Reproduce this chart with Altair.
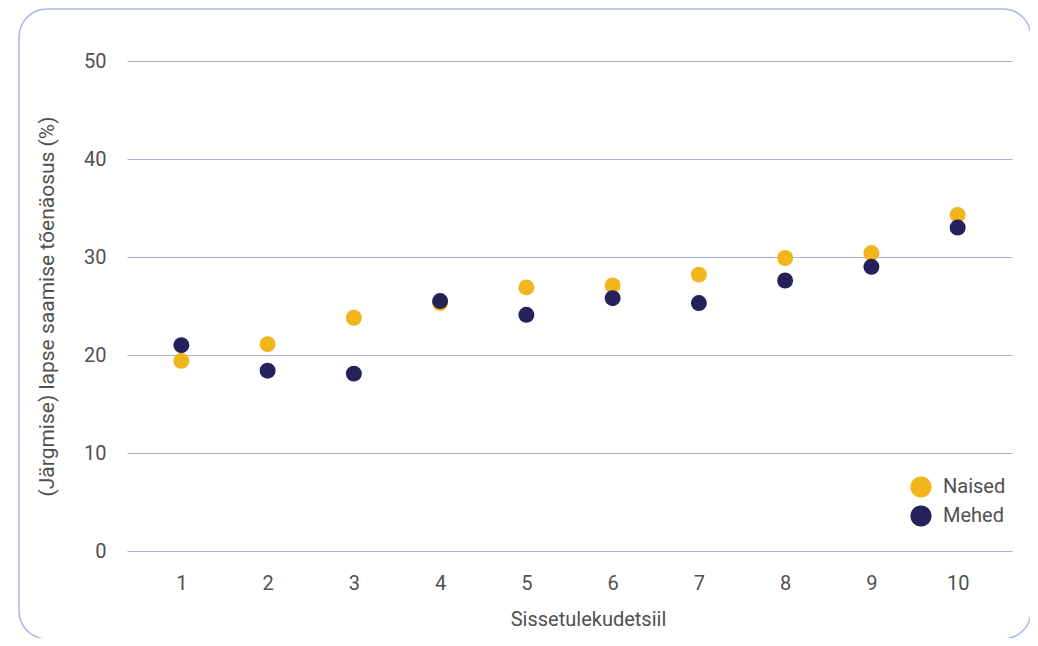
import altair as alt
import pandas as pd

deciles = [1, 2, 3, 4, 5, 6, 7, 8, 9, 10]
naised = [19.4, 21.1, 23.8, 25.3, 26.9, 27.1, 28.2, 29.9, 30.4, 34.3]
mehed = [21.0, 18.4, 18.1, 25.5, 24.1, 25.8, 25.3, 27.6, 29.0, 33.0]
series = ["Naised", "Mehed"]
colors = ["#F2B51B", "#25215B"]

rows = []
for name, vals in zip(series, [naised, mehed]):
    for d, v in zip(deciles, vals):
        rows.append({"decile": str(d), "value": v, "group": name})
df = pd.DataFrame(rows)

FONT = "Roboto"
TXT = "#505050"
GRID = "#a4afe6"

frame = alt.Chart(alt.Data(values=[{"a": 1}])).mark_rect(
    fill="white", fillOpacity=0, stroke="#aab3e8", strokeWidth=1.5, cornerRadius=28
).encode(
    x=alt.value(-108), x2=alt.value(904),
    y=alt.value(-52), y2=alt.value(578)
)

points = alt.Chart(df).mark_circle(size=255, opacity=1).encode(
    x=alt.X("decile:O", sort=[str(d) for d in deciles],
            scale=alt.Scale(type="point", padding=0.63),
            axis=alt.Axis(title="Sissetulekudetsiil", labelAngle=0, ticks=False, tickSize=0,
                          domain=False, grid=False, labelPadding=22,
                          titleX=461, titleY=58, titleAnchor="middle")),
    y=alt.Y("value:Q", scale=alt.Scale(domain=[0, 50], nice=False),
            axis=alt.Axis(title="(Järgmise) lapse saamise tõenäosus (%)", values=[0, 10, 20, 30, 40, 50],
                          ticks=False, tickSize=0, domain=False, grid=True, labelPadding=21,
                          gridColor=GRID, gridWidth=1, gridOpacity=1,
                          titleX=-80, titleBaseline="middle", titleFontSize=21)),
    color=alt.Color("group:N", scale=alt.Scale(domain=series, range=colors),
                    legend=alt.Legend(title=None, orient="none", legendX=783, legendY=415,
                                      symbolSize=450, symbolType="circle", rowPadding=7,
                                      labelFontSize=20, labelFont=FONT, labelColor=TXT,
                                      labelOffset=11, symbolStrokeWidth=0)),
    order=alt.Order("order:Q")
).transform_calculate(order="datum.group === 'Naised' ? 0 : 1")

chart = alt.layer(frame, points).properties(
    width=885, height=490,
    autosize=alt.AutoSizeParams(type="none"),
    padding={"left": 119, "top": 53, "right": 18, "bottom": 87}
).configure_view(stroke=None).configure_axis(
    labelFont=FONT, titleFont=FONT, labelFontSize=20, titleFontSize=20,
    labelColor=TXT, titleColor=TXT, titleFontWeight="normal"
)

chart.save("out.html", embed_options={"renderer": "svg", "actions": False})
